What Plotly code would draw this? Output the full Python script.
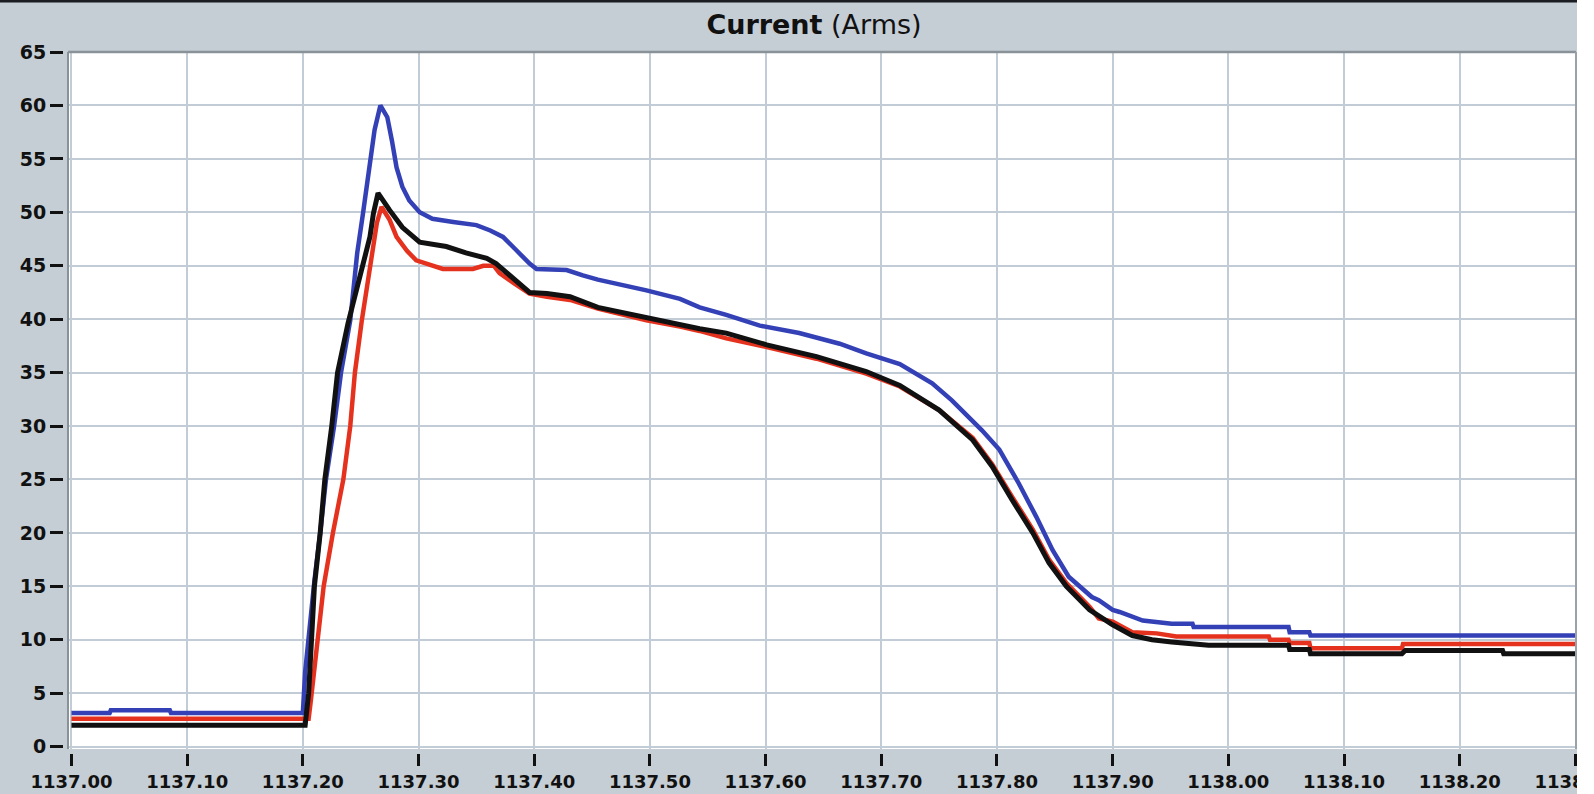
import plotly.graph_objects as go

# ---- data (time in s, current in Arms) ----
blue_t = [1137.000, 1137.033, 1137.034, 1137.085, 1137.086, 1137.200, 1137.202, 1137.206,
          1137.210, 1137.215, 1137.220, 1137.227, 1137.233, 1137.241, 1137.247, 1137.252,
          1137.258, 1137.262, 1137.267, 1137.273, 1137.277, 1137.281, 1137.286, 1137.292,
          1137.301, 1137.312, 1137.330, 1137.350, 1137.362, 1137.373, 1137.385, 1137.396,
          1137.402, 1137.428, 1137.442, 1137.455, 1137.497, 1137.526, 1137.543, 1137.566,
          1137.595, 1137.629, 1137.664, 1137.687, 1137.716, 1137.744, 1137.761, 1137.787,
          1137.802, 1137.819, 1137.834, 1137.848, 1137.862, 1137.882, 1137.888, 1137.900,
          1137.906, 1137.926, 1137.951, 1137.969, 1137.970, 1138.052, 1138.053, 1138.070,
          1138.071, 1138.300]
blue_v = [3.15, 3.15, 3.4, 3.4, 3.15, 3.15, 7.0, 11.5,
          15.5, 20.0, 25.0, 30.0, 35.0, 39.9, 46.2, 49.9,
          54.6, 57.7, 60.0, 58.9, 56.7, 54.2, 52.4, 51.1,
          50.0, 49.4, 49.1, 48.8, 48.3, 47.7, 46.4, 45.2,
          44.7, 44.6, 44.1, 43.7, 42.7, 41.9, 41.1, 40.4,
          39.4, 38.7, 37.7, 36.8, 35.8, 34.0, 32.4, 29.6,
          27.8, 24.6, 21.5, 18.4, 15.9, 14.0, 13.7, 12.8,
          12.6, 11.8, 11.5, 11.5, 11.2, 11.2, 10.7, 10.7,
          10.4, 10.4]

red_t = [1137.000, 1137.205, 1137.207, 1137.213, 1137.218, 1137.226, 1137.235, 1137.241,
         1137.245, 1137.251, 1137.258, 1137.264, 1137.268, 1137.275, 1137.281, 1137.290,
         1137.298, 1137.310, 1137.321, 1137.347, 1137.356, 1137.365, 1137.370, 1137.382,
         1137.396, 1137.411, 1137.431, 1137.455, 1137.497, 1137.526, 1137.543, 1137.566,
         1137.601, 1137.644, 1137.687, 1137.716, 1137.750, 1137.779, 1137.796, 1137.813,
         1137.831, 1137.845, 1137.860, 1137.880, 1137.888, 1137.900, 1137.917, 1137.938,
         1137.955, 1138.035, 1138.036, 1138.052, 1138.053, 1138.070, 1138.071, 1138.150,
         1138.151, 1138.300]
red_v = [2.6, 2.6, 4.4, 10.0, 15.0, 20.0, 25.0, 30.0,
         35.0, 39.9, 45.2, 49.0, 50.5, 49.3, 47.7, 46.4,
         45.5, 45.1, 44.7, 44.7, 45.0, 45.0, 44.3, 43.4,
         42.4, 42.1, 41.8, 41.0, 39.9, 39.3, 38.9, 38.2,
         37.4, 36.3, 34.9, 33.7, 31.5, 28.9, 26.4, 23.4,
         20.3, 17.5, 15.3, 13.1, 12.0, 11.7, 10.7, 10.6,
         10.3, 10.3, 10.0, 10.0, 9.7, 9.7, 9.2, 9.2,
         9.6, 9.6]

black_t = [1137.000, 1137.202, 1137.205, 1137.208, 1137.210, 1137.215, 1137.219, 1137.225,
           1137.230, 1137.239, 1137.249, 1137.258, 1137.261, 1137.265, 1137.275, 1137.286,
           1137.301, 1137.324, 1137.341, 1137.359, 1137.367, 1137.381, 1137.396, 1137.411,
           1137.431, 1137.455, 1137.497, 1137.526, 1137.543, 1137.566, 1137.601, 1137.644,
           1137.687, 1137.716, 1137.750, 1137.779, 1137.796, 1137.813, 1137.831, 1137.845,
           1137.860, 1137.880, 1137.900, 1137.917, 1137.934, 1137.951, 1137.983, 1138.052,
           1138.053, 1138.070, 1138.071, 1138.150, 1138.153, 1138.237, 1138.238, 1138.300]
black_v = [2.0, 2.0, 5.0, 10.0, 15.0, 20.0, 25.0, 30.0,
           35.0, 39.6, 43.7, 47.7, 49.9, 51.8, 50.2, 48.6,
           47.2, 46.8, 46.2, 45.7, 45.2, 43.9, 42.5, 42.4,
           42.1, 41.1, 40.1, 39.4, 39.1, 38.7, 37.6, 36.5,
           35.1, 33.8, 31.5, 28.7, 26.2, 23.1, 20.0, 17.2,
           15.0, 12.8, 11.4, 10.4, 10.0, 9.8, 9.5, 9.5,
           9.1, 9.1, 8.7, 8.7, 9.0, 9.0, 8.7, 8.7]

x_ticks = [round(1137.0 + 0.1 * i, 2) for i in range(14)]
x_tick_labels = ["%.2f" % v for v in x_ticks]
y_ticks = list(range(0, 70, 5))

BG = "#c5cdd5"
GRID = "#c2ccd6"
FONT = "DejaVu Sans"

fig = go.Figure()
fig.add_trace(go.Scatter(x=blue_t, y=blue_v, mode="lines",
                         line=dict(color="#3441b6", width=4.5), showlegend=False))
fig.add_trace(go.Scatter(x=red_t, y=red_v, mode="lines",
                         line=dict(color="#e5321f", width=4.5), showlegend=False))
fig.add_trace(go.Scatter(x=black_t, y=black_v, mode="lines",
                         line=dict(color="#111111", width=5), showlegend=False))

fig.update_layout(
    width=1577, height=794,
    margin=dict(l=63, r=1, t=52, b=41, pad=0, autoexpand=False),
    paper_bgcolor=BG,
    plot_bgcolor="white",
    title=dict(text="<b>Current</b> (Arms)", x=814 / 1577, xref="container", xanchor="center",
               y=0.9695, yref="container", yanchor="middle", automargin=False,
               font=dict(family=FONT, size=27, color="#111111")),
    xaxis=dict(domain=[0.0033, 1], range=[1136.997, 1138.3005], anchor="free", position=0,
               tickvals=x_ticks, ticktext=x_tick_labels, ticks="outside", ticklen=12,
               tickwidth=2.5, tickcolor="#111111", showgrid=True, gridcolor=GRID, gridwidth=1.5,
               zeroline=False, showline=False, ticklabeloverflow="allow", automargin=False,
               tickfont=dict(family=FONT, size=18, color="#111111", weight="bold")),
    yaxis=dict(domain=[0.0057, 1], range=[-0.22, 65], anchor="free", position=0,
               tickvals=y_ticks, ticks="outside", ticklen=13, tickwidth=3,
               tickcolor="#111111", showgrid=True, gridcolor=GRID, gridwidth=1.5,
               zeroline=False, showline=False, automargin=False,
               tickfont=dict(family=FONT, size=19, color="#111111", weight="bold")),
    shapes=[
        # dark strip at the very top
        dict(type="rect", xref="paper", yref="paper", x0=-0.05, x1=1.01, y0=1.0706, y1=1.08,
             fillcolor="#1a1d22", line=dict(width=0), layer="above"),
        # plot frame: top, left, right
        dict(type="line", xref="x domain", yref="y domain", x0=0, x1=1, y0=1, y1=1,
             line=dict(color="#8a9299", width=2.5), layer="above"),
        dict(type="line", xref="x domain", yref="y domain", x0=0, x1=0, y0=0, y1=1,
             line=dict(color="#8a9299", width=2), layer="above"),
        dict(type="line", xref="x domain", yref="y domain", x0=1, x1=1, y0=0, y1=1,
             line=dict(color="#9aa2a9", width=2), layer="above"),
    ],
)

fig.write_html("out.html", config={"displayModeBar": False},
               post_script="document.body.style.margin='0';")
